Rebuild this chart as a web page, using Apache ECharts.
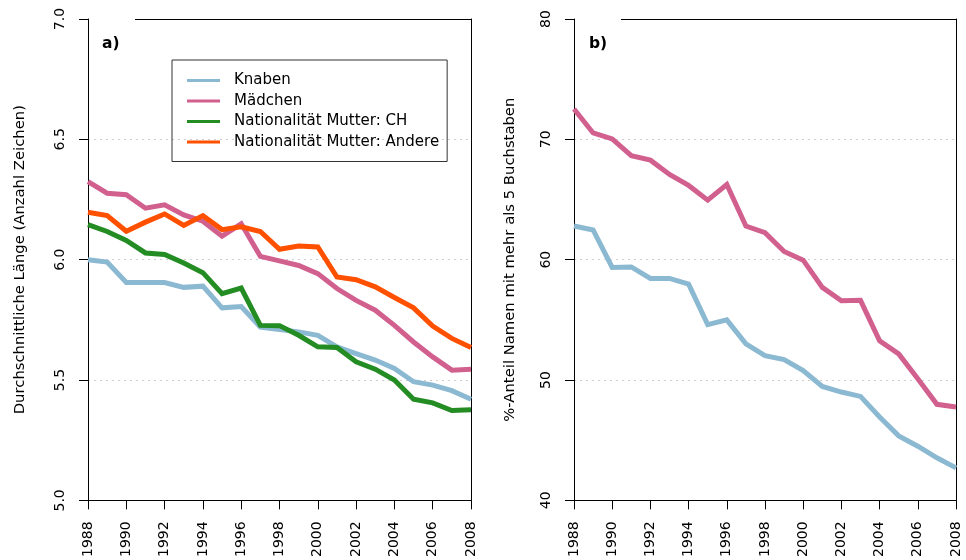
<!DOCTYPE html>
<html>
<head>
<meta charset="utf-8">
<script src="https://cdn.jsdelivr.net/npm/echarts@6/dist/echarts.min.js"></script>
<style>
html, body { margin: 0; padding: 0; background: #fff; }
#chart { width: 966px; height: 560px; }
</style>
</head>
<body>
<div id="chart"></div>
<script>
// Birth years on the x axis
const years = [1988, 1989, 1990, 1991, 1992, 1993, 1994, 1995, 1996, 1997, 1998,
               1999, 2000, 2001, 2002, 2003, 2004, 2005, 2006, 2007, 2008];

// a) average name length (characters)
const knabenLen   = [6.00, 5.99, 5.905, 5.905, 5.905, 5.885, 5.89, 5.80, 5.805, 5.72, 5.71,
                     5.70, 5.686, 5.638, 5.61, 5.583, 5.548, 5.493, 5.479, 5.456, 5.42];
const maedchenLen = [6.324, 6.276, 6.27, 6.214, 6.228, 6.186, 6.16, 6.098, 6.149, 6.014, 5.995,
                     5.976, 5.942, 5.88, 5.831, 5.79, 5.727, 5.658, 5.596, 5.541, 5.545];
const chLen       = [6.146, 6.117, 6.08, 6.028, 6.022, 5.986, 5.946, 5.859, 5.882, 5.727, 5.726,
                     5.686, 5.638, 5.635, 5.576, 5.545, 5.50, 5.42, 5.405, 5.373, 5.377];
const andereLen   = [6.197, 6.183, 6.118, 6.156, 6.19, 6.142, 6.183, 6.125, 6.137, 6.117, 6.043,
                     6.057, 6.053, 5.928, 5.917, 5.887, 5.843, 5.80, 5.724, 5.673, 5.635];

// b) share of names with more than 5 letters (%)
const knabenPct   = [62.8, 62.47, 59.35, 59.4, 58.44, 58.44, 57.97, 54.6, 55.0, 53.0, 52.03,
                     51.7, 50.79, 49.47, 49.0, 48.64, 46.93, 45.36, 44.5, 43.54, 42.7];
const maedchenPct = [72.52, 70.53, 70.03, 68.65, 68.27, 67.08, 66.17, 64.95, 66.25, 62.8, 62.25,
                     60.68, 59.96, 57.7, 56.59, 56.62, 53.25, 52.17, 50.1, 47.98, 47.76];

const seriesNames = ['Knaben', 'Mädchen', 'Nationalität Mutter: CH', 'Nationalität Mutter: Andere'];
const panelLabels = ['a)', 'b)'];
const yNames = ['Durchschnittliche Länge (Anzahl Zeichen)', '%-Anteil Namen mit mehr als 5 Buchstaben'];

const COLORS = {
  knaben: '#8cb9d2',
  maedchen: '#d2608f',
  ch: '#238c23',
  andere: '#ff5000'
};

const FONT = 'DejaVu Sans';

const pairs = vals => years.map((y, i) => [y, vals[i]]);

function xAxis(gridIndex) {
  return {
    type: 'value', gridIndex, min: 1988, max: 2008, interval: 2,
    axisLine: { show: true, lineStyle: { color: '#000', width: 1 } },
    axisTick: { show: true, length: 9, lineStyle: { color: '#000' } },
    axisLabel: {
      rotate: 90, margin: 21, color: '#000', fontFamily: FONT, fontSize: 14,
      formatter: v => String(v)
    },
    splitLine: { show: false }
  };
}

function yAxis(gridIndex, min, max, interval, name, nameGap, fmt) {
  return {
    type: 'value', gridIndex, min, max, interval,
    name, nameLocation: 'middle', nameGap,
    nameTextStyle: { color: '#000', fontFamily: FONT, fontSize: 14.8 },
    axisLine: { show: true, lineStyle: { color: '#000', width: 1 } },
    axisTick: { show: true, length: 9, lineStyle: { color: '#000' } },
    axisLabel: { rotate: 90, margin: 21, color: '#000', fontFamily: FONT, fontSize: 14, formatter: fmt },
    splitLine: {
      show: true, showMinLine: false, showMaxLine: false,
      lineStyle: { color: '#cfcfcf', type: [2, 4], width: 1 }
    }
  };
}

// plain right-hand frame line of each panel
function frameAxis(gridIndex, min, max) {
  return {
    type: 'value', gridIndex, min, max, position: 'right',
    axisLine: { show: true, lineStyle: { color: '#000', width: 1 } },
    axisTick: { show: false }, axisLabel: { show: false }, splitLine: { show: false }
  };
}

function line(name, xi, yi, vals, color) {
  return {
    type: 'line', name, xAxisIndex: xi, yAxisIndex: yi,
    data: pairs(vals), symbol: 'none', smooth: false,
    lineStyle: { color, width: 5, cap: 'butt', join: 'miter' },
    itemStyle: { color },
    emphasis: { disabled: true }, animation: false, z: 3
  };
}

const chart = echarts.init(document.getElementById('chart'), null, { renderer: 'canvas' });

chart.setOption({
  backgroundColor: '#fff',
  animation: false,
  grid: [
    { left: 88, right: 495, top: 19, bottom: 58 },
    { left: 574, right: 10, top: 19, bottom: 58 }
  ],
  title: [
    { text: panelLabels[0], left: 97, top: 31, textStyle: { fontFamily: FONT, fontSize: 15.5, fontWeight: 'bold', color: '#000' } },
    { text: panelLabels[1], left: 584, top: 31, textStyle: { fontFamily: FONT, fontSize: 15.5, fontWeight: 'bold', color: '#000' } }
  ],
  // top frame segments to the right of the panel labels
  graphic: [
    { type: 'line', shape: { x1: 135, y1: 19.5, x2: 471, y2: 19.5 }, style: { stroke: '#000', lineWidth: 1 }, silent: true },
    { type: 'line', shape: { x1: 621, y1: 19.5, x2: 956, y2: 19.5 }, style: { stroke: '#000', lineWidth: 1 }, silent: true }
  ],
  legend: {
    data: seriesNames,
    orient: 'vertical',
    left: 172, top: 60,
    padding: [13, 8, 12, 15],
    itemWidth: 33, itemHeight: 3, itemGap: 5.5,
    icon: 'rect',
    borderColor: '#333', borderWidth: 1,
    selectedMode: false,
    textStyle: { fontFamily: FONT, fontSize: 15, color: '#000', padding: [0, 0, 0, 9] }
  },
  xAxis: [xAxis(0), xAxis(1)],
  yAxis: [
    yAxis(0, 5, 7, 0.5, yNames[0], 60, v => v.toFixed(1)),
    yAxis(1, 40, 80, 10, yNames[1], 56, v => String(v)),
    frameAxis(0, 5, 7),
    frameAxis(1, 40, 80)
  ],
  series: [
    line(seriesNames[0], 0, 0, knabenLen, COLORS.knaben),
    line(seriesNames[1], 0, 0, maedchenLen, COLORS.maedchen),
    line(seriesNames[2], 0, 0, chLen, COLORS.ch),
    line(seriesNames[3], 0, 0, andereLen, COLORS.andere),
    line(seriesNames[0], 1, 1, knabenPct, COLORS.knaben),
    line(seriesNames[1], 1, 1, maedchenPct, COLORS.maedchen)
  ]
});
</script>
</body>
</html>
